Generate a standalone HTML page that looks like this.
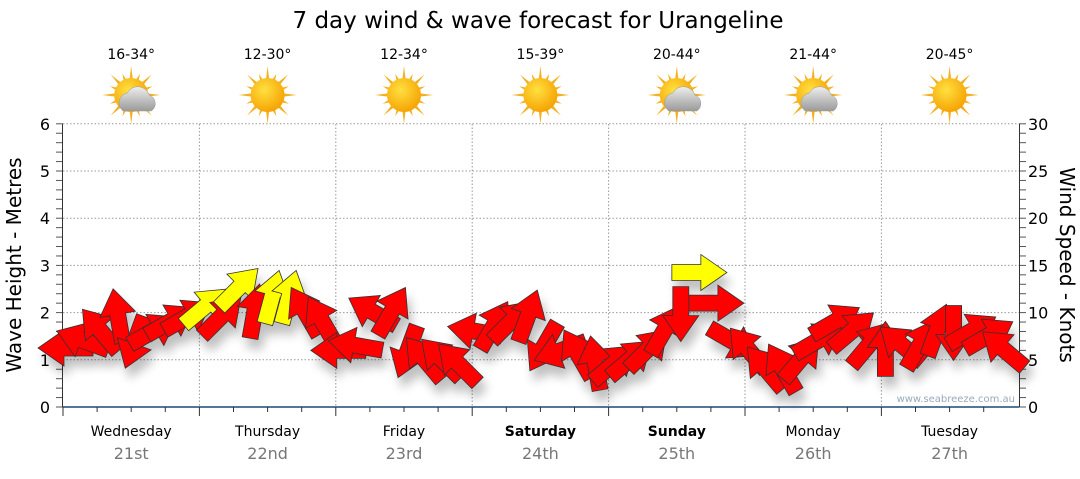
<!DOCTYPE html>
<html><head><meta charset="utf-8"><style>
body{margin:0;background:#fff;width:1080px;height:475px;overflow:hidden;font-family:"DejaVu Sans","Liberation Sans",sans-serif}
svg text{font-family:"DejaVu Sans","Liberation Sans",sans-serif}
</style></head><body>
<svg id="c" width="1080" height="475" viewBox="0 0 1080 475">
<defs>
<radialGradient id="sun" cx="0.4" cy="0.35" r="0.7"><stop offset="0" stop-color="#ffe040"/><stop offset="1" stop-color="#f5a000"/></radialGradient>
<linearGradient id="cloud" x1="0" y1="0" x2="0" y2="1"><stop offset="0" stop-color="#eeeeee"/><stop offset="1" stop-color="#9a9a9a"/></linearGradient>
<filter id="sh" x="-20%" y="-20%" width="140%" height="160%"><feGaussianBlur in="SourceAlpha" stdDeviation="5"/><feOffset dx="4" dy="10"/><feComponentTransfer><feFuncA type="linear" slope="0.25"/></feComponentTransfer><feMerge><feMergeNode/><feMergeNode in="SourceGraphic"/></feMerge></filter>
</defs>
<text x="538" y="28" font-size="23" text-anchor="middle" fill="#000">7 day wind &amp; wave forecast for Urangeline</text>
<g id="grid"></g><g id="axes"></g><g id="topg"></g>
<g id="arrows" filter="url(#sh)"></g>
<text transform="translate(21,265) rotate(-90)" font-size="20" text-anchor="middle">Wave Height - Metres</text>
<text transform="translate(1060,265) rotate(90)" font-size="20" text-anchor="middle">Wind Speed - Knots</text>
<text x="1015" y="402" font-size="10" fill="#99aabb" text-anchor="end">www.seabreeze.com.au</text>
</svg>
<script>
const days=["Wednesday","Thursday","Friday","Saturday","Sunday","Monday","Tuesday"];
const dates=["21st","22nd","23rd","24th","25th","26th","27th"];
const temps=["16-34°","12-30°","12-34°","15-39°","20-44°","21-44°","20-45°"];
const cloudy=[1,0,0,0,1,1,0];
const boldDays=[0,0,0,1,1,0,0];
const waveTicks=[0,1,2,3,4,5,6];
const windTicks=[0,5,10,15,20,25,30];
const heights=[1.25,1.4,1.6,1.9,1.4,1.6,1.8,1.9, 2.1,1.9,2.5,2.0,2.3,2.3,2.0,1.8, 1.2,1.3,2.0,2.0,1.2,1.0,1.0,0.9, 1.6,1.7,1.8,1.9,1.3,1.2,1.1,0.9, 0.9,1.0,1.2,1.6,2.0,2.85,2.2,1.4, 1.2,0.8,0.8,1.0,1.4,1.8,1.6,1.3, 1.2,1.3,1.3,1.6,1.6,1.6,1.5,1.2];
const dirs=[180,160,130,100,250,30,30,30, 40,45,45,80,75,75,120,120, 180,170,150,60,250,130,135,135, 170,60,45,70,240,200,120,100, 40,40,45,60,270,0,0,330, 130,130,120,50,30,30,40,50, 90,140,60,70,270,30,30,140];
const yellow=[0,0,0,0,0,0,0,0, 1,0,1,0,1,1,0,0, 0,0,0,0,0,0,0,0, 0,0,0,0,0,0,0,0, 0,0,0,0,0,1,0,0, 0,0,0,0,0,0,0,0, 0,0,0,0,0,0,0,0];
const NS="http://www.w3.org/2000/svg";
const X0=63,DW=136.4,Y0=407,PM=47.2;
const xs=i=>X0+DW*i/8+4;
const yW=v=>Y0-v*PM;
const yK=v=>Y0-v*PM/5;
function mk(p,t,a,txt){const e=document.createElementNS(NS,t);for(const k in a)e.setAttribute(k,a[k]);if(txt!=null)e.textContent=txt;p.appendChild(e);return e;}
const grid=document.getElementById('grid'),axes=document.getElementById('axes'),topG=document.getElementById('topg'),ar=document.getElementById('arrows');
waveTicks.forEach(v=>{if(v>0){const l=mk(grid,'line',{x1:X0,x2:1019,y1:yW(v),y2:yW(v),stroke:'#999','stroke-dasharray':'1.5,2'});

}
const t=mk(axes,'text',{x:50,y:yW(v)+6,'font-size':16,'text-anchor':'end'},v);

});
windTicks.forEach(v=>{const t=mk(axes,'text',{x:1028,y:yK(v)+6,'font-size':16},v);

});
for(let k=0;k<=30;k++){const y=Y0-k*PM/5;mk(axes,'line',{x1:56,x2:63,y1:y,y2:y,stroke:'#555'});mk(axes,'line',{x1:1019,x2:1026,y1:y,y2:y,stroke:'#555'});}
mk(axes,'line',{x1:62.5,x2:62.5,y1:124,y2:Y0,stroke:'#333'});
mk(axes,'line',{x1:1019.5,x2:1019.5,y1:124,y2:Y0,stroke:'#333'});
mk(axes,'line',{x1:X0,x2:1019,y1:Y0,y2:Y0,stroke:'#1a4a7a','stroke-width':1.5});
for(let d=0;d<7;d++){
 const bx=X0+d*DW;
 if(d>0){const g=mk(grid,'line',{x1:bx,x2:bx,y1:124,y2:Y0,stroke:'#999','stroke-dasharray':'1.5,2'});
 
 }
 mk(axes,'line',{x1:bx,x2:bx,y1:Y0,y2:Y0+9,stroke:'#333'});
 for(let q=1;q<4;q++)mk(axes,'line',{x1:bx+q*DW/4,x2:bx+q*DW/4,y1:Y0,y2:Y0+5,stroke:'#333'});
 const cx=bx+DW/2;
 const dl=mk(axes,'text',{x:cx,y:436,'font-size':14,'text-anchor':'middle','font-weight':boldDays[d]?'bold':'normal'},days[d]);
 
 
 const dt=mk(axes,'text',{x:cx,y:459,'font-size':16,'text-anchor':'middle',fill:'#777'},dates[d]);
 
 
 const tt=mk(topG,'text',{x:cx,y:59,'font-size':14,'text-anchor':'middle'},temps[d]);
 
 
 const ic=mk(topG,'g',{transform:`translate(${cx},95)`});
 
 
 for(let r=0;r<16;r++){const a=r*Math.PI/8,L=r%2?23:29;mk(ic,'polygon',{points:`${Math.cos(a-0.13)*14},${Math.sin(a-0.13)*14} ${Math.cos(a)*L},${Math.sin(a)*L} ${Math.cos(a+0.13)*14},${Math.sin(a+0.13)*14}`,fill:'#f3b020'});}
 mk(ic,'circle',{cx:0,cy:0,r:17,fill:'url(#sun)'});
 if(cloudy[d]){mk(ic,'path',{d:'M-8,16 a10,10 0 0 1 4,-18 a12,12 0 0 1 22,2 a9,9 0 0 1 2,16 z',fill:'url(#cloud)',stroke:'#999','stroke-width':0.5});}
}
heights.forEach((h,i)=>{
 const x=xs(i),y=yW(h);
 const p=mk(ar,'polygon',{points:'-26,-8 3,-8 3,-18 29,0 3,18 3,8 -26,8',fill:yellow[i]?'#ffff00':'#ff0000',stroke:'#333','stroke-width':0.8,'stroke-linejoin':'miter',transform:`translate(${x},${y}) rotate(${-dirs[i]})`});
 
 
});
</script>
</body></html>
